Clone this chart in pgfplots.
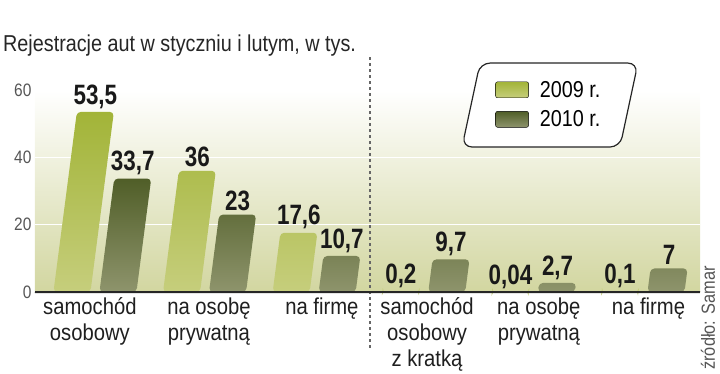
\documentclass[border=0pt]{standalone}
\usepackage{pgfplots}
\pgfplotsset{compat=1.18}
\usepackage{fontspec}
\setmainfont{Liberation Sans}
\newfontfamily\cf[FakeStretch=0.86]{Liberation Sans}
\newfontfamily\lf[FakeStretch=0.88]{Liberation Sans}
\newfontfamily\vf[FakeStretch=0.8]{Liberation Sans}
\definecolor{lighttop}{RGB}{162,180,56}
\definecolor{lightbot}{RGB}{198,206,124}
\definecolor{darktop}{RGB}{80,94,40}
\definecolor{darkbot}{RGB}{142,148,108}
\definecolor{bgbot}{RGB}{210,214,160}
\definecolor{tickgray}{RGB}{85,85,85}
\begin{document}
\begin{tikzpicture}[x=1pt,y=1pt]
\useasboundingbox (0,-81) rectangle (720,292);
\pgfplotsset{common/.style={
  at={(35pt,0pt)}, anchor=south west, scale only axis,
  width=665pt, height=202pt,
  xmin=-0.547, xmax=5.52, ymin=0, ymax=60, clip=false,
}}
% background, grid, ticks, labels, legend
\begin{axis}[common,
  axis background/.style={shade, top color=white, bottom color=bgbot},
  axis line style={draw=none}, major tick length=0pt,
  ytick={0,20,40,60}, ymajorgrids, grid style={white, line width=1.5pt},
  xtick={-0.046,1.04,2.07,3.03,4.05,5.05},
  xticklabels={samochód\\osobowy, na osobę\\prywatną, na firmę, samochód\\osobowy\\z kratką, na osobę\\prywatną, na firmę},
  xticklabel style={align=center, font=\lf\fontsize{23}{26}\selectfont, text=black!88, yshift=-2pt},
  yticklabel style={font=\cf\fontsize{18}{20}\selectfont, text=tickgray},
  /pgf/number format/assume math mode=true,
  legend style={draw=none, fill=none, at={(0.692,0.928)}, anchor=west,
    font=\cf\fontsize{23}{25}\selectfont, row sep=8pt, inner sep=0pt},
  legend cell align=left,
]
\draw[rounded corners=10pt, fill=white, line width=1.2pt, draw=black!85]
  (axis cs:3.513,68.0) -- (axis cs:4.954,68.0) -- (axis cs:4.790,43.07) -- (axis cs:3.349,43.07) -- cycle;
\draw[dash pattern=on 3pt off 3pt, line width=1.3pt, draw=black!60]
  (axis cs:2.509,69.8) -- (axis cs:2.509,-17.2);
% value labels 2009
\addplot[draw=none, mark=none, forget plot,
  nodes near coords={\pgfmathprintnumber[fixed, precision=2, use comma, assume math mode=true]{\pgfplotspointmeta}},
  visualization depends on={rawy \as \rawy},
  every node near coord/.append style={font=\vf\bfseries\fontsize{28}{30}\selectfont, text=black!90, anchor=south,
    xshift={(-23+0.4377*\rawy)*1pt}}]
  coordinates {(0,53.5) (1,36) (2,17.6) (3,0.2) (4,0.04) (5,0.1)};
% value labels 2010
\addplot[draw=none, mark=none, forget plot,
  nodes near coords={\pgfmathprintnumber[fixed, precision=2, use comma, assume math mode=true]{\pgfplotspointmeta}},
  visualization depends on={rawy \as \rawy},
  every node near coord/.append style={font=\vf\bfseries\fontsize{28}{30}\selectfont, text=black!90, anchor=south,
    xshift={(23+0.4377*\rawy)*1pt}}]
  coordinates {(0,33.7) (1,23) (2,10.7) (3,9.7) (4,2.7) (5,7)};
\addlegendimage{legend image code/.code={\shade[top color=lighttop, bottom color=lightbot, rounded corners=2pt] (0pt,-8pt) rectangle (33pt,8pt); \path (42pt,0pt);}}
\addlegendentry{2009 r.}
\addlegendimage{legend image code/.code={\shade[top color=darktop, bottom color=darkbot, rounded corners=2pt] (0pt,-8pt) rectangle (33pt,8pt); \path (42pt,0pt);}}
\addlegendentry{2010 r.}
\end{axis}
% slanted bars
\begin{scope}[transform canvas={xslant=0.13}]
\begin{axis}[common, hide axis, ybar=9pt, bar width=37pt]
\addplot[draw=none, rounded corners=4pt, top color=lighttop, bottom color=lightbot]
  coordinates {(0,53.5) (1,36) (2,17.6) (3,0.2) (4,0.04) (5,0.1)};
\addplot[draw=none, rounded corners=4pt, top color=darktop, bottom color=darkbot]
  coordinates {(0,33.7) (1,23) (2,10.7) (3,9.7) (4,2.7) (5,7)};
\draw[line width=2pt, draw=black!85] (rel axis cs:0,0) -- (rel axis cs:1,0);
\end{axis}
\end{scope}
\node[anchor=base west, inner sep=0pt, font=\cf\fontsize{23}{27}\selectfont, text=black!85] at (3,241) {Rejestracje aut w styczniu i lutym, w tys.};
\node[rotate=90, inner sep=0pt, font=\cf\fontsize{19}{21}\selectfont, text=tickgray] at (708,-26) {źródło: Samar};
\end{tikzpicture}
\end{document}
